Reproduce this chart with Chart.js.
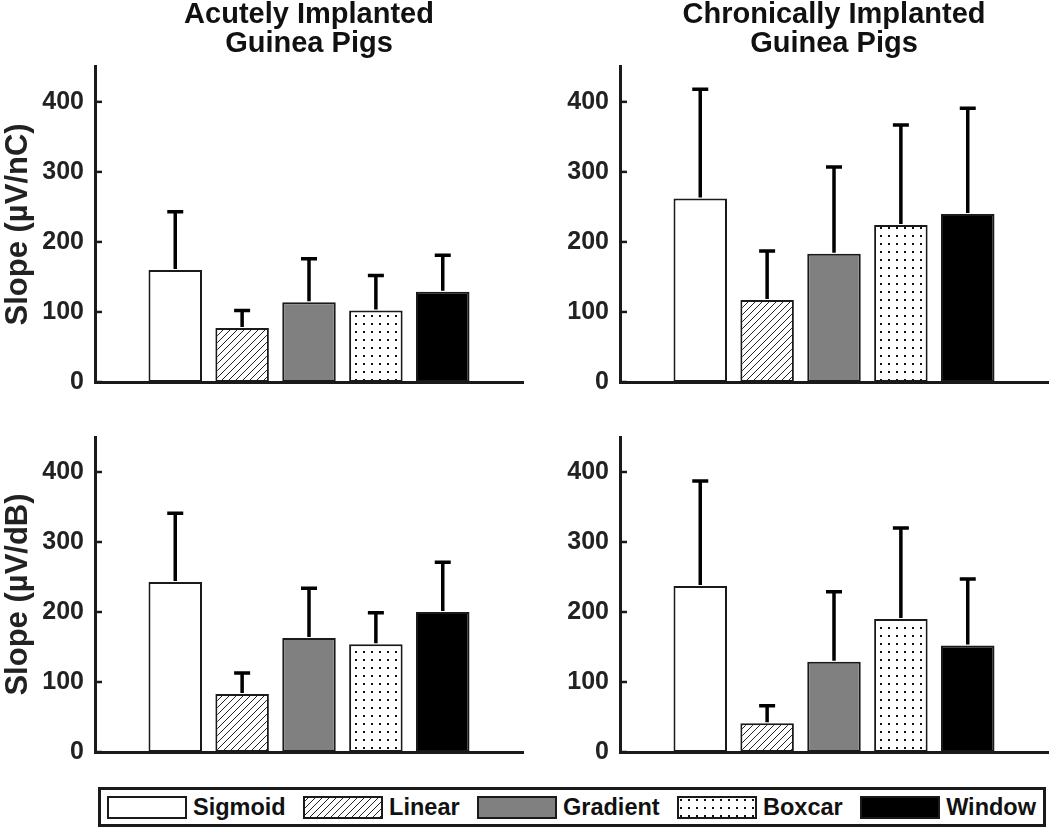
<!DOCTYPE html>
<html>
<head>
<meta charset="utf-8">
<script src="https://cdn.jsdelivr.net/npm/chart.js@4.4.1/dist/chart.umd.min.js"></script>
<style>
  body { margin: 0; background: #fff; width: 1050px; height: 828px; position: relative; overflow: hidden;
         font-family: "Liberation Sans", Arial, sans-serif; }
  canvas.panel { position: absolute; }
  #legend { position: absolute; left: 98px; top: 787px; width: 948px; height: 40px; box-sizing: border-box;
            border: 3px solid #1a1a1a; display: flex; align-items: center; justify-content: space-between;
            padding: 0 7px 0 6px; }
  .item { display: flex; align-items: center; }
  .item span { font-weight: bold; font-size: 23.5px; color: #111; margin-left: 6px; }
</style>
</head>
<body>
<canvas class="panel" id="acuteNC" width="525" height="400" style="left:0;top:0"></canvas>
<canvas class="panel" id="chronicNC" width="525" height="400" style="left:525px;top:0"></canvas>
<canvas class="panel" id="acuteDB" width="525" height="380" style="left:0;top:400px"></canvas>
<canvas class="panel" id="chronicDB" width="525" height="380" style="left:525px;top:400px"></canvas>
<div id="legend"></div>
<script>
// Fitting methods (one bar each)
const methods = ['Sigmoid', 'Linear', 'Gradient', 'Boxcar', 'Window'];
const yTicks = [0, 100, 200, 300, 400];

// Slope (µV/nC): mean and SD
const acuteNC = [160, 77, 114, 102, 129];
const acuteNCsd = [83, 25, 62, 50, 52];
const chronicNC = [262, 117, 183, 224, 240];
const chronicNCsd = [156, 70, 124, 143, 151];

// Slope (µV/dB): mean and SD
const acuteDB = [243, 83, 163, 154, 200];
const acuteDBsd = [98, 30, 71, 45, 71];
const chronicDB = [237, 41, 129, 190, 152];
const chronicDBsd = [150, 25, 100, 130, 95];

const ink = '#1a1a1a';
const font = '"Liberation Sans", Arial, sans-serif';

// fill patterns
function hatchPattern() {
  const c = document.createElement('canvas');
  c.width = 7; c.height = 7;
  const g = c.getContext('2d');
  g.fillStyle = '#fff'; g.fillRect(0, 0, 7, 7);
  g.strokeStyle = '#222'; g.lineWidth = 1;
  g.beginPath();
  g.moveTo(0, 7); g.lineTo(7, 0);
  g.moveTo(-1, 1); g.lineTo(1, -1);
  g.moveTo(6, 8); g.lineTo(8, 6);
  g.stroke();
  return g.createPattern(c, 'repeat');
}
function dotPattern() {
  const c = document.createElement('canvas');
  c.width = 8; c.height = 8;
  const g = c.getContext('2d');
  g.fillStyle = '#fff'; g.fillRect(0, 0, 8, 8);
  g.fillStyle = '#111'; g.fillRect(3, 3, 2, 2);
  return g.createPattern(c, 'repeat');
}
const fills = ['#ffffff', hatchPattern(), '#808080', dotPattern(), '#000000'];

// error bars (upper only) + inward y ticks
const extras = {
  id: 'extras',
  afterDatasetsDraw(chart) {
    const ctx = chart.ctx, y = chart.scales.y, ds = chart.data.datasets[0];
    const area = chart.chartArea;
    ctx.save();
    ctx.strokeStyle = '#000';
    ctx.lineWidth = 3.5;
    chart.getDatasetMeta(0).data.forEach((bar, i) => {
      const top = y.getPixelForValue(ds.data[i].y + ds.errors[i]);
      ctx.beginPath();
      ctx.moveTo(bar.x, bar.y - 1); ctx.lineTo(bar.x, top);
      ctx.moveTo(bar.x - 8, top); ctx.lineTo(bar.x + 8, top);
      ctx.stroke();
    });
    ctx.strokeStyle = ink;
    ctx.lineWidth = 2.5;
    y.ticks.forEach(t => {
      const py = y.getPixelForValue(t.value);
      ctx.beginPath(); ctx.moveTo(area.left, py); ctx.lineTo(area.left + 7, py); ctx.stroke();
    });
    ctx.restore();
  }
};

function makeChart(id, means, errors, title, yLabel, top, bottom) {
  new Chart(document.getElementById(id), {
    type: 'bar',
    data: {
      datasets: [{
        data: means.map((v, i) => ({ x: i + 1, y: v })),
        errors: errors,
        backgroundColor: fills,
        borderColor: ink,
        borderWidth: 2,
        borderSkipped: false,
        barPercentage: 0.8,
        categoryPercentage: 1.0
      }]
    },
    options: {
      responsive: false,
      animation: false,
      layout: { padding: { left: 0, right: 2, top: top, bottom: bottom } },
      plugins: {
        legend: { display: false },
        tooltip: { enabled: false },
        title: {
          display: !!title,
          text: title,
          fullSize: false,
          color: '#111',
          font: { family: font, size: 29, weight: 'bold', lineHeight: 0.98 },
          padding: { top: 1, bottom: 9 }
        }
      },
      scales: {
        x: {
          type: 'linear', min: -0.2, max: 6.2, offset: false,
          ticks: { display: false },
          grid: { display: false },
          border: { display: true, width: 3, color: ink },
          afterFit: s => { s.height = 0; }
        },
        y: {
          min: 0, max: 450,
          afterBuildTicks: s => { s.ticks = yTicks.map(v => ({ value: v })); },
          afterFit: s => { s.width = 95; s.paddingTop = 0; s.paddingBottom = 0; },
          ticks: { color: '#222', padding: 3, font: { family: font, size: 25, weight: 'bold' } },
          grid: { display: false },
          border: { display: true, width: 3, color: ink },
          title: {
            display: !!yLabel, text: yLabel, color: '#222',
            padding: { top: 0, bottom: 0 },
            font: { family: font, size: 31, weight: 'bold' }
          }
        }
      }
    },
    plugins: [extras]
  });
}

makeChart('acuteNC', acuteNC, acuteNCsd, ['Acutely Implanted', 'Guinea Pigs'], 'Slope (µV/nC)', 0, 18);
makeChart('chronicNC', chronicNC, chronicNCsd, ['Chronically Implanted', 'Guinea Pigs'], '', 0, 18);
makeChart('acuteDB', acuteDB, acuteDBsd, null, 'Slope (µV/dB)', 37, 28);
makeChart('chronicDB', chronicDB, chronicDBsd, null, '', 37, 28);

// legend
const legend = document.getElementById('legend');
methods.forEach((name, i) => {
  const item = document.createElement('div');
  item.className = 'item';
  const sw = document.createElement('canvas');
  sw.width = 80; sw.height = 23;
  const g = sw.getContext('2d');
  g.fillStyle = fills[i]; g.fillRect(0, 0, 80, 23);
  g.strokeStyle = ink; g.lineWidth = 2; g.strokeRect(1, 1, 78, 21);
  const label = document.createElement('span');
  label.textContent = name;
  item.appendChild(sw); item.appendChild(label);
  legend.appendChild(item);
});
</script>
</body>
</html>
